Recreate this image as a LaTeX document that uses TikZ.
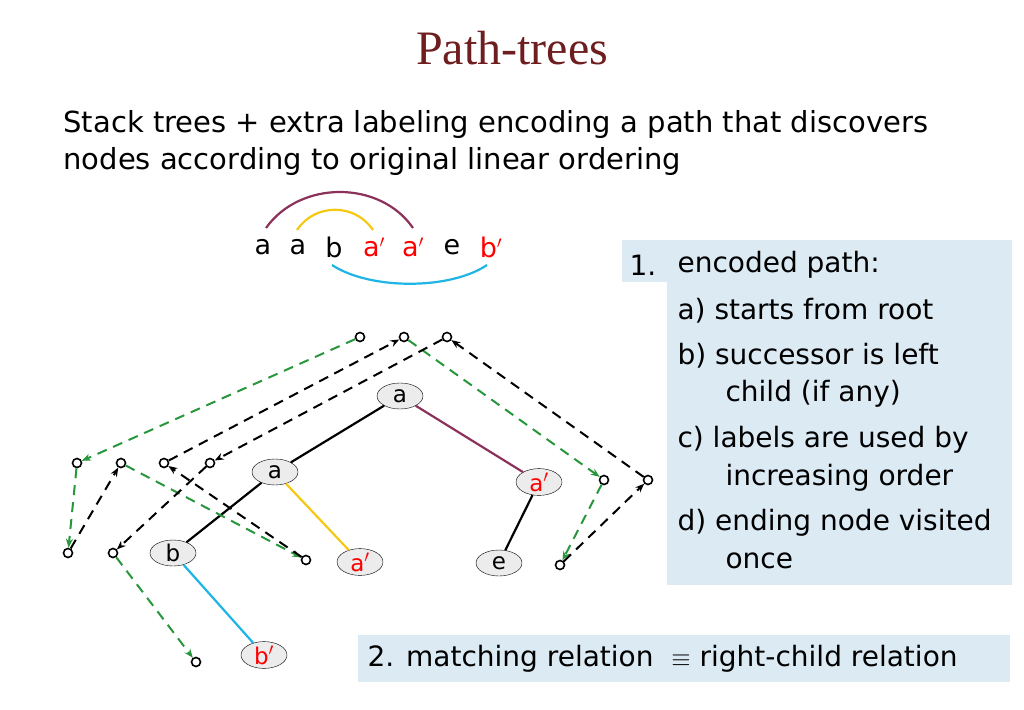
\documentclass[tikz,border=0pt]{standalone}
\usepackage{fontspec}
\setmainfont{DejaVu Sans}
\newfontfamily\titlefont{Liberation Serif}
\usetikzlibrary{arrows.meta, shapes.geometric, calc}
\definecolor{titlered}{RGB}{110,30,30}
\definecolor{boxblue}{RGB}{220,234,244}
\definecolor{arcpurple}{RGB}{140,50,90}
\definecolor{arcyellow}{RGB}{245,200,20}
\definecolor{arccyan}{RGB}{30,180,230}
\definecolor{pathgreen}{RGB}{40,150,60}
\tikzset{
    my-tree-node/.style={
        ellipse, draw, fill=gray!15, minimum width=46pt, minimum height=26pt, inner sep=0pt, font=\fontsize{23}{24}\selectfont
    },
    my-dot/.style={
        circle, draw, line width=1.6pt, minimum size=9pt, inner sep=0pt
    },
    my-black-step/.style={
        draw, line width=2pt, dash pattern=on 10pt off 7pt, -{Stealth[length=9pt, width=7pt]}
    },
    my-green-step/.style={
        draw, line width=2pt, pathgreen, dash pattern=on 10pt off 7pt, -{Stealth[length=9pt, width=7pt]}
    },
    my-edge/.style={
        line width=2.2pt
    },
    my-seq/.style={
        font=\fontsize{27}{30}\selectfont
    },
    my-item/.style={
        anchor=west, font=\fontsize{28}{30}\selectfont
    },
}
\begin{document}
\begin{tikzpicture}[x=1pt, y=-1pt]
        \useasboundingbox (0,0) rectangle (1024,709);

        % TITLE AND SUBTITLE
        \node[titlered, font=\titlefont\fontsize{48}{50}\selectfont] (TITLE) at (512,48) {Path-trees};
        \node[anchor=west, align=left, font=\fontsize{29}{37}\selectfont] (SUB) at (60,143) {Stack trees + extra labeling encoding a path that discovers\\ nodes according to original linear ordering};

        % SEQUENCE AND ARCS
        \node[my-seq] (S1) at (263,247) {a};
        \node[my-seq] (S2) at (298,247) {a};
        \node[my-seq] (S3) at (334,247) {b};
        \node[my-seq, red] (S4) at (374,247) {a$'$};
        \node[my-seq, red] (S5) at (413,247) {a$'$};
        \node[my-seq] (S6) at (452,247) {e};
        \node[my-seq, red] (S7) at (491,247) {b$'$};
        \draw[my-edge, arcpurple]  (266,228) .. controls (300,180) and (380,180) .. (413,228);
        \draw[my-edge, arcyellow]  (297,230) .. controls (315,203) and (355,203) .. (373,230);
        \draw[my-edge, arccyan]    (332,265) .. controls (370,290) and (450,290) .. (487,265);

        % RIGHT BOXES
        \fill[boxblue] (622,240) rectangle (1012,282);
        \fill[boxblue] (667,240) rectangle (1012,585);
        \fill[boxblue] (358,635) rectangle (1010,682);
        \node[my-item] (N1)  at (626,265) {1.};
        \node[my-item] (I0)  at (674,265) {encoded path:};
        \node[my-item] (IA)  at (674,311) {a)\ starts from root};
        \node[my-item] (IB)  at (674,356) {b)\ successor is left};
        \node[my-item] (IB2) at (722,394) {child (if any)};
        \node[my-item] (IC)  at (674,440) {c)\ labels are used by};
        \node[my-item] (IC2) at (722,478) {increasing order};
        \node[my-item] (ID)  at (674,523) {d)\ ending node visited};
        \node[my-item] (ID2) at (722,561) {once};
        \node[my-item] (MATCH) at (364,659) {2. matching relation \ $\equiv$ right-child relation};

        % TREE NODES
        \node[my-tree-node] (ROOT) at (400,396) {a};
        \node[my-tree-node] (A)    at (275,472) {a};
        \node[my-tree-node] (AP1)  at (539,482) {\textcolor{red}{a$'$}};
        \node[my-tree-node] (B)    at (173,553) {b};
        \node[my-tree-node] (AP2)  at (360,562) {\textcolor{red}{a$'$}};
        \node[my-tree-node] (E)    at (499,563) {e};
        \node[my-tree-node] (BP)   at (264,655) {\textcolor{red}{b$'$}};

        % TREE EDGES
        \draw[my-edge] (ROOT) -- (A);
        \draw[my-edge, arcpurple] (ROOT) -- (AP1);
        \draw[my-edge] (A) -- (B);
        \draw[my-edge, arcyellow] (A) -- (AP2);
        \draw[my-edge] (AP1) -- (E);
        \draw[my-edge, arccyan] (B) -- (BP);

        % PATH POINTS
        \node[my-dot] (T1) at (360,337) {};
        \node[my-dot] (T2) at (404,337) {};
        \node[my-dot] (T3) at (447,337) {};
        \node[my-dot] (L1) at (77,463)  {};
        \node[my-dot] (L2) at (121,463) {};
        \node[my-dot] (L3) at (164,463) {};
        \node[my-dot] (L4) at (210,463) {};
        \node[my-dot] (D1) at (68,553)  {};
        \node[my-dot] (D2) at (113,553) {};
        \node[my-dot] (D3) at (306,560) {};
        \node[my-dot] (D4) at (196,662) {};
        \node[my-dot] (R1) at (604,480) {};
        \node[my-dot] (R2) at (648,480) {};
        \node[my-dot] (R3) at (560,565) {};

        % PATH STEPS
        \path[my-green-step] (T1) -- (L1);
        \path[my-green-step] (L1) -- (D1);
        \path[my-black-step] (D1) -- (L2);
        \path[my-green-step] (L2) -- (D3);
        \path[my-black-step] (D3) -- (L3);
        \path[my-black-step] (L3) -- (T2);
        \path[my-green-step] (T2) -- (R1);
        \path[my-green-step] (R1) -- (R3);
        \path[my-black-step] (R3) -- (R2);
        \path[my-black-step] (R2) -- (T3);
        \path[my-black-step] (T3) -- (L4);
        \path[my-black-step] (L4) -- (D2);
        \path[my-green-step] (D2) -- (D4);

\end{tikzpicture}
\end{document}
